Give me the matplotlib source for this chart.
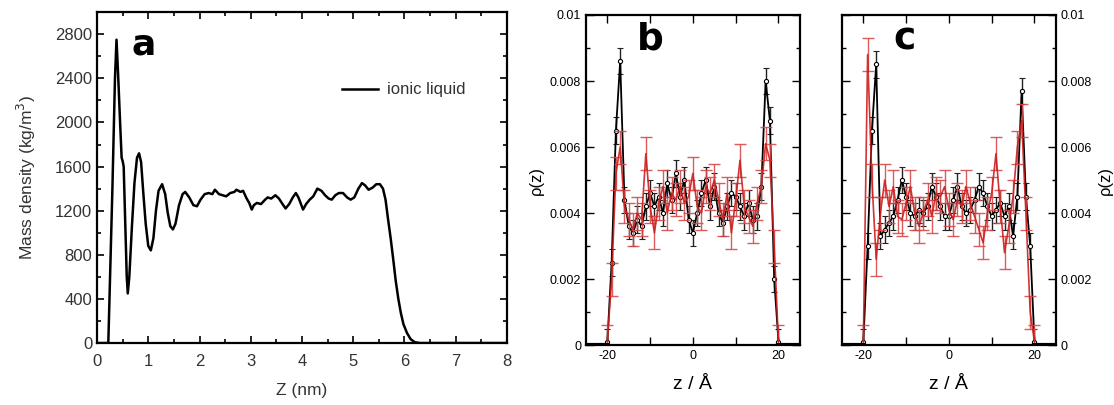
import numpy as np
import matplotlib.pyplot as plt
from matplotlib.ticker import MultipleLocator

plt.rcParams['font.family'] = ['Liberation Sans', 'DejaVu Sans']

# panel a: mass density profile
z_nm = [0.0, 0.22, 0.26, 0.30, 0.35, 0.38, 0.41, 0.45, 0.48, 0.50, 0.52, 0.55, 0.58,
        0.60, 0.63, 0.68, 0.73, 0.78, 0.82, 0.86, 0.90, 0.95, 1.00, 1.05, 1.10, 1.15,
        1.20, 1.27, 1.33, 1.38, 1.43, 1.48, 1.53, 1.60, 1.67, 1.72, 1.80, 1.88, 1.95,
        2.02, 2.10, 2.18, 2.25, 2.30, 2.38, 2.45, 2.52, 2.60, 2.68, 2.72, 2.80, 2.85,
        2.92, 2.97, 3.02, 3.06, 3.12, 3.20, 3.28, 3.33, 3.40, 3.48, 3.55, 3.62, 3.68,
        3.75, 3.82, 3.88, 3.93, 3.98, 4.02, 4.08, 4.15, 4.22, 4.30, 4.38, 4.45, 4.52,
        4.58, 4.65, 4.72, 4.80, 4.88, 4.95, 5.02, 5.10, 5.17, 5.23, 5.30, 5.38, 5.45,
        5.52, 5.58, 5.63, 5.68, 5.73, 5.78, 5.83, 5.88, 5.93, 5.98, 6.05, 6.12, 6.20,
        6.30, 8.0]
density = [0, 0, 700, 1400, 2400, 2750, 2450, 2000, 1680, 1650, 1600, 1100, 600,
           450, 600, 1050, 1450, 1680, 1720, 1640, 1380, 1080, 880, 840, 950, 1200,
           1380, 1440, 1350, 1180, 1060, 1030, 1080, 1250, 1350, 1370, 1320, 1250, 1240,
           1300, 1350, 1360, 1350, 1390, 1350, 1340, 1330, 1360, 1370, 1390, 1370, 1380,
           1310, 1270, 1210, 1250, 1270, 1260, 1300, 1320, 1310, 1340, 1310, 1260, 1220,
           1260, 1320, 1360, 1320, 1260, 1210, 1260, 1300, 1330, 1400, 1380, 1340, 1310,
           1300, 1340, 1360, 1360, 1320, 1300, 1320, 1400, 1450, 1430, 1390, 1410, 1440,
           1440, 1400, 1300, 1120, 950, 760, 560, 400, 270, 170, 90, 35, 8,
           0, 0]

# panels b and c: number density profiles (units of 1e-3)
z_ang = [-20, -19, -18, -17, -16, -15, -14, -13, -12, -11, -10, -9, -8, -7, -6,
         -5, -4, -3, -2, -1, 0, 1, 2, 3, 4, 5, 6, 7, 8, 9, 10, 11, 12, 13, 14, 15, 16,
         17, 18, 19, 20]
b_black = [0.1, 2.5, 6.5, 8.6, 4.4, 3.6, 3.4, 3.8, 3.6, 4.2, 4.6, 4.2, 4.5, 4.0, 4.9,
           4.4, 5.2, 4.5, 5.0, 3.8, 3.4, 4.0, 4.6, 5.0, 4.2, 4.8, 4.0, 3.7, 4.2, 4.6, 4.5,
           4.2, 3.9, 4.3, 3.8, 3.9, 4.8, 8.0, 6.8, 2.0, 0.1]
b_red = [0.1, 2.0, 5.2, 6.0, 4.2, 3.8, 3.5, 4.0, 3.8, 5.8, 4.2, 3.4, 4.3, 4.8, 4.0,
         4.6, 4.4, 4.8, 4.3, 4.5, 5.2, 4.2, 4.0, 4.8, 4.6, 5.0, 4.4, 3.8, 4.6, 3.4, 4.4,
         5.6, 4.2, 3.9, 3.6, 4.3, 4.8, 6.1, 5.6, 3.0, 0.1]
c_black = [0.1, 3.0, 6.5, 8.5, 3.3, 3.5, 3.7, 3.9, 4.4, 5.0, 4.5, 4.0, 3.9, 4.1, 4.0,
           4.2, 4.8, 4.5, 4.2, 3.9, 3.9, 4.4, 4.8, 4.2, 4.0, 4.1, 4.4, 4.8, 4.6, 4.2, 3.9,
           4.1, 4.3, 3.9, 4.2, 3.3, 4.5, 7.7, 4.5, 3.0, 0.1]
c_red = [0.1, 8.8, 5.0, 2.6, 4.0, 5.0, 4.2, 4.8, 3.9, 3.8, 4.3, 4.8, 4.0, 3.6, 4.0,
         4.4, 3.9, 4.6, 4.5, 4.8, 4.1, 3.8, 4.4, 4.2, 4.8, 4.3, 3.9, 3.5, 3.1, 4.0, 4.6,
         5.8, 4.2, 2.8, 3.6, 4.5, 6.0, 6.8, 4.0, 1.0, 0.1]
err_black = 0.4
err_red = 0.5

fig = plt.figure(figsize=(11.14, 4.05), dpi=100)

# ---- panel a
ax = fig.add_axes([0.0871, 0.153, 0.368, 0.817])
ax.plot(z_nm, density, color='black', lw=1.8, label='ionic liquid')
ax.set_xlim(0, 8)
ax.set_ylim(0, 3000)
ax.set_xticks(range(0, 9))
ax.set_yticks(range(0, 3000, 400))
ax.xaxis.set_minor_locator(MultipleLocator(0.5))
ax.yaxis.set_minor_locator(MultipleLocator(200))
ax.tick_params(which='both', direction='in', top=True, right=True, labelsize=12,
               labelcolor='#333333', width=1.2)
ax.tick_params(which='major', length=5)
ax.tick_params(which='minor', length=3)
ax.tick_params(axis='x', pad=8)
for s in ax.spines.values():
    s.set_linewidth(1.6)
ax.set_xlabel('Z (nm)', fontsize=12.5, color='#333333', labelpad=10)
ax.set_ylabel('Mass density (kg/m$^3$)', fontsize=12.5, color='#333333', labelpad=12)
ax.legend(loc='center left', bbox_to_anchor=(0.56, 0.765), frameon=False, fontsize=12,
          handlelength=2.2, handletextpad=0.5, labelcolor='#333333')
ax.text(0.085, 0.955, 'a', transform=ax.transAxes, fontsize=26, fontweight='bold',
        family='DejaVu Sans', va='top', ha='left')


def density_panel(rect, black, red, letter, right):
    ax = fig.add_axes(rect)
    zb = np.array(z_ang)
    ax.errorbar(zb, np.array(black) * 1e-3, yerr=err_black * 1e-3, color='black', lw=1.3,
                marker='o', ms=3, mfc='white', mew=0.8, ecolor='#222222', elinewidth=1,
                capsize=2.5, zorder=2)
    ax.errorbar(zb, np.array(red) * 1e-3, yerr=err_red * 1e-3, color='#cc1f1f', lw=1.2,
                ecolor='#d84a4a', elinewidth=1, capsize=4, alpha=0.9, zorder=3)
    ax.plot([-25, -20], [0, 0], color='black', lw=3, zorder=4)
    ax.plot([20, 25], [0, 0], color='black', lw=3, zorder=4)
    ax.set_xlim(-25, 25)
    ax.set_ylim(0, 0.01)
    ax.set_xticks([-20, -10, 0, 10, 20], labels=['-20', '', '0', '', '20'])
    ax.set_yticks([0, 0.002, 0.004, 0.006, 0.008, 0.01],
                  labels=['0', '0.002', '0.004', '0.006', '0.008', '0.01'])
    ax.yaxis.set_minor_locator(MultipleLocator(0.001))
    ax.tick_params(which='both', direction='in', top=True, right=True, labelsize=9,
                   width=1)
    ax.tick_params(which='major', length=6)
    ax.tick_params(which='minor', length=3)
    for s in ax.spines.values():
        s.set_linewidth(1.6)
    ax.set_xlabel('z / Å', fontsize=14, labelpad=10)
    ax.set_ylabel('ρ(z)', fontsize=12)
    if right:
        ax.yaxis.set_label_position('right')
        ax.tick_params(labelleft=False, labelright=True)
    ax.text(0.24, 0.98, letter, transform=ax.transAxes, fontsize=27, fontweight='bold',
            family='DejaVu Sans', va='top', ha='left')
    return ax


density_panel([0.526, 0.148, 0.192, 0.815], b_black, b_red, 'b', False)
density_panel([0.7558, 0.148, 0.192, 0.815], c_black, c_red, 'c', True)

fig.savefig('out.png', dpi=100)
